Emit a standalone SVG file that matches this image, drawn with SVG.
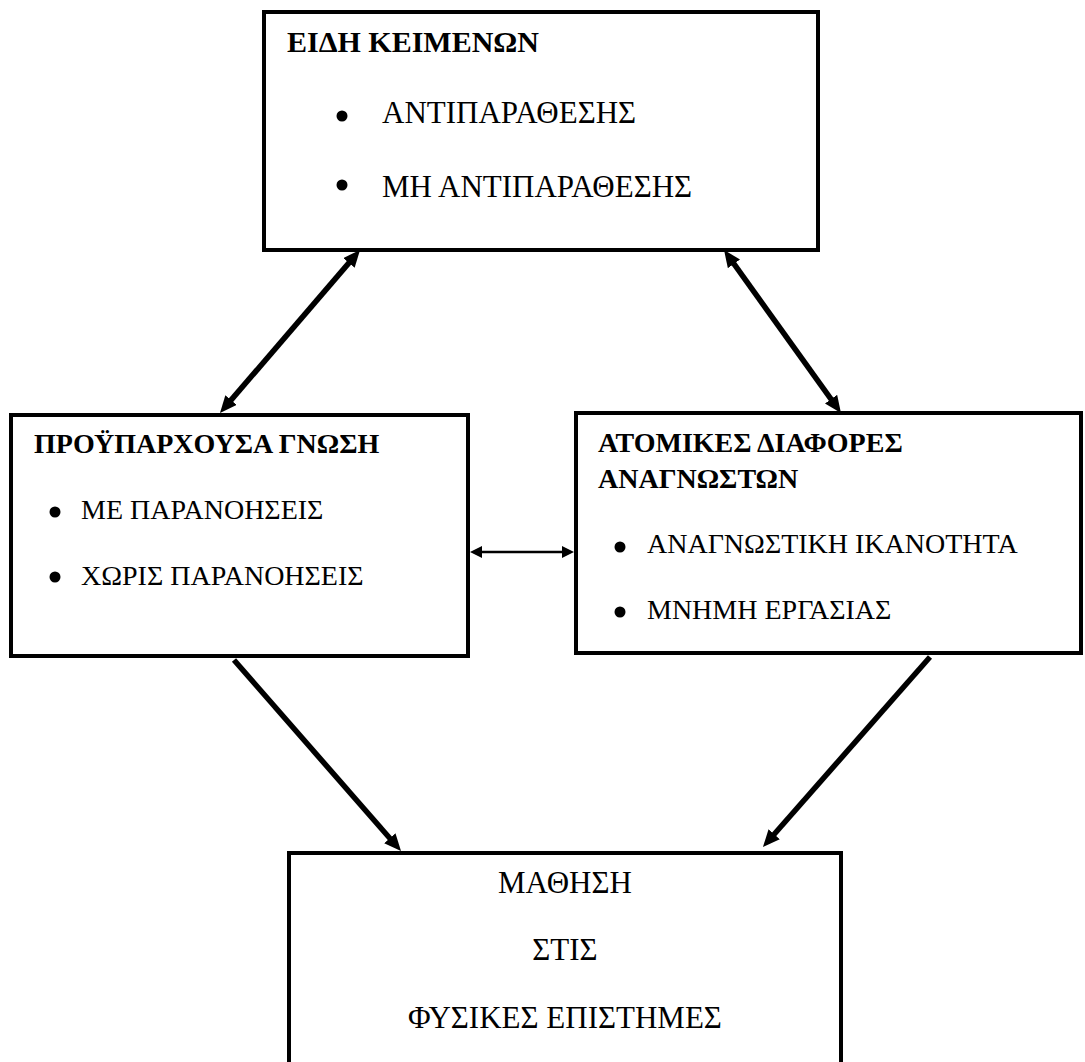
<svg xmlns="http://www.w3.org/2000/svg" width="1085" height="1062" viewBox="0 0 1085 1062">
<style>
.box{fill:#fff;stroke:#000;stroke-width:4}
.t{font-family:"Liberation Serif","Times New Roman",serif;font-size:28px;fill:#000}
.big{font-size:31px}
.b{font-weight:bold}
.c{text-anchor:middle}
.thick{stroke:#000;stroke-width:5.5;fill:none}
.thin{stroke:#000;stroke-width:2.5;fill:none}
</style>
<defs>
<marker id="ah" viewBox="0 0 17 15" refX="3" refY="7.5" markerWidth="17" markerHeight="15" markerUnits="userSpaceOnUse" orient="auto-start-reverse">
<path d="M0,0 L17,7.5 L0,15 z" fill="#000"/>
</marker>
<marker id="ahs" viewBox="0 0 12 12" refX="1" refY="6" markerWidth="12" markerHeight="12" markerUnits="userSpaceOnUse" orient="auto-start-reverse">
<path d="M0,0 L12,6 L0,12 z" fill="#000"/>
</marker>
</defs>
<rect width="1085" height="1062" fill="#fff"/>
<g id="connectors">
<line class="thick" x1="350.9" y1="260.6" x2="229.1" y2="402.4" marker-start="url(#ah)" marker-end="url(#ah)"/>
<line class="thick" x1="732.2" y1="261.4" x2="832.8" y2="401.6" marker-start="url(#ah)" marker-end="url(#ah)"/>
<line class="thick" x1="234" y1="660" x2="391.8" y2="840.5" marker-end="url(#ah)"/>
<line class="thick" x1="930" y1="657" x2="772.2" y2="836.5" marker-end="url(#ah)"/>
<line class="thin" x1="481" y1="552" x2="563" y2="552" marker-start="url(#ahs)" marker-end="url(#ahs)"/>
</g>
<g id="node-types">
<rect class="box" x="264" y="12" width="554" height="238"/>
<text class="t b" x="287" y="52" style="font-size:30px">ΕΙΔΗ ΚΕΙΜΕΝΩΝ</text>
<circle cx="342" cy="116" r="5.5"/>
<text class="t big" x="382" y="123">ΑΝΤΙΠΑΡΑΘΕΣΗΣ</text>
<circle cx="342" cy="185" r="5.5"/>
<text class="t big" x="382" y="197">ΜΗ ΑΝΤΙΠΑΡΑΘΕΣΗΣ</text>
</g>
<g id="node-prior">
<rect class="box" x="11" y="415" width="457" height="241"/>
<text class="t b" x="34" y="453">ΠΡΟΫΠΑΡΧΟΥΣΑ ΓΝΩΣΗ</text>
<circle cx="55" cy="512" r="5.5"/>
<text class="t" x="81" y="519">ΜΕ ΠΑΡΑΝΟΗΣΕΙΣ</text>
<circle cx="55" cy="577" r="5.5"/>
<text class="t" x="81" y="585">ΧΩΡΙΣ ΠΑΡΑΝΟΗΣΕΙΣ</text>
</g>
<g id="node-readers">
<rect class="box" x="576" y="413" width="505" height="240"/>
<text class="t b" x="598" y="452">ΑΤΟΜΙΚΕΣ ΔΙΑΦΟΡΕΣ</text>
<text class="t b" x="598" y="488">ΑΝΑΓΝΩΣΤΩΝ</text>
<circle cx="620" cy="547" r="5.5"/>
<text class="t" x="647" y="553">ΑΝΑΓΝΩΣΤΙΚΗ ΙΚΑΝΟΤΗΤΑ</text>
<circle cx="620" cy="612" r="5.5"/>
<text class="t" x="647" y="619">ΜΝΗΜΗ ΕΡΓΑΣΙΑΣ</text>
</g>
<g id="node-learning">
<rect class="box" x="289" y="853" width="552" height="230"/>
<text class="t big c" x="565" y="893">ΜΑΘΗΣΗ</text>
<text class="t big c" x="565" y="960">ΣΤΙΣ</text>
<text class="t big c" x="565" y="1028">ΦΥΣΙΚΕΣ ΕΠΙΣΤΗΜΕΣ</text>
</g>
</svg>
